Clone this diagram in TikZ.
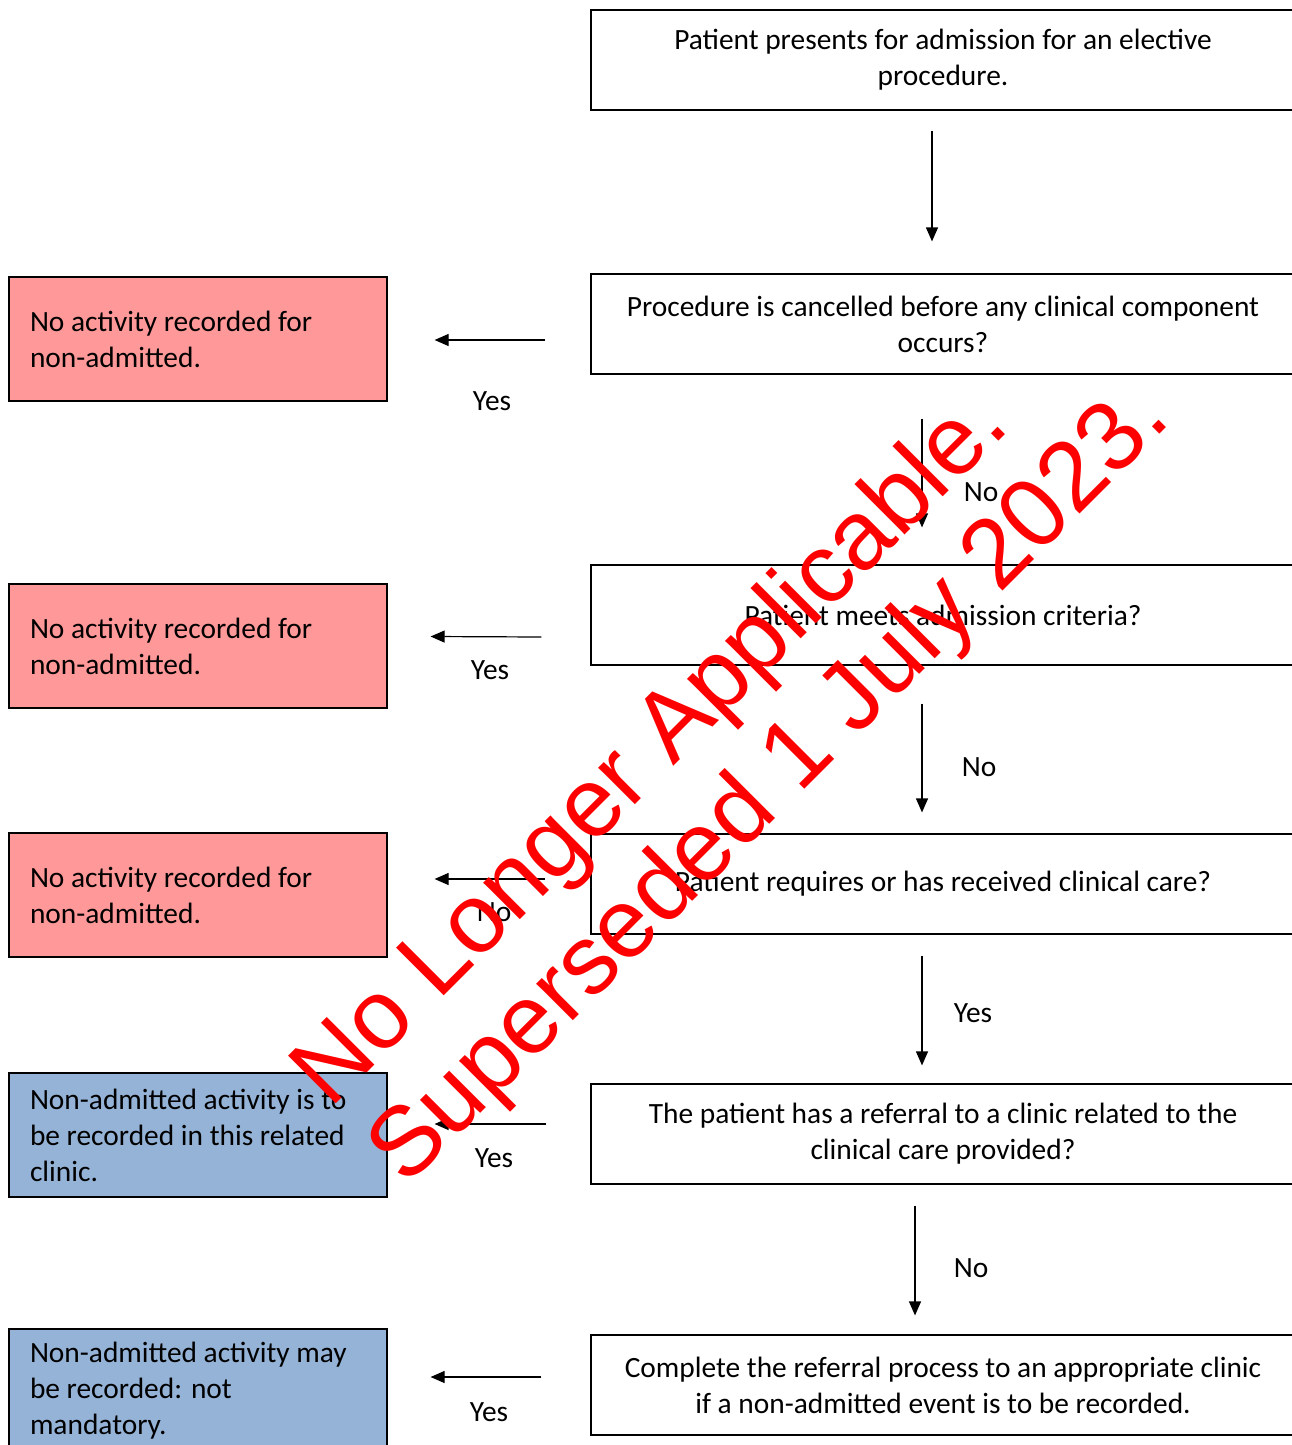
\documentclass[tikz,border=0pt]{standalone}
\usepackage{fontspec}
\setmainfont{Carlito}
\newfontfamily\markfont{Liberation Sans}
\usetikzlibrary{arrows.meta, positioning}
\definecolor{noactred}{RGB}{255,153,153}
\definecolor{clinicblue}{RGB}{149,179,215}
\tikzset{
	every node/.style={
		align=center,
	},
}
\tikzstyle{question} = [rectangle, draw, line width=0.6pt, minimum width=352pt, minimum height=50pt, font=\fontsize{14.7}{18}\selectfont]
\tikzstyle{outcome} = [rectangle, draw, line width=0.6pt, minimum width=189pt, minimum height=62pt, text width=168pt, inner xsep=10.5pt, align=flush left, font=\fontsize{14.7}{18}\selectfont]
\tikzstyle{answer} = [font=\fontsize{14.7}{18}\selectfont]
\tikzstyle{flow} = [-{Triangle[length=7pt,width=6pt]}, line width=0.6pt, black]
\tikzstyle{stamp} = [text=red, rotate=45, anchor=base west, inner sep=0pt, font=\markfont\fontsize{49}{57}\selectfont]

\begin{document}
\begin{tikzpicture}[x=0.5pt, y=-0.5pt]
    \useasboundingbox (0,0) rectangle (1291,1445);

    % main column
    \node (q1) [question] at (943,60) {Patient presents for admission for an elective\\procedure.};
    \node (q2) [question] at (943,324) {Procedure is cancelled before any clinical component\\occurs?};
    \node (q3) [question] at (943,615) {Patient meets admission criteria?};
    \node (q4) [question] at (943,884) {Patient requires or has received clinical care?};
    \node (q5) [question] at (943,1134) {The patient has a referral to a clinic related to the\\clinical care provided?};
    \node (q6) [question] at (943,1385) {Complete the referral process to an appropriate clinic\\if a non-admitted event is to be recorded.};

    % outcomes
    \node (o1) [outcome, fill=noactred] at (198,339) {No activity recorded for\\non-admitted.};
    \node (o2) [outcome, fill=noactred] at (198,646) {No activity recorded for\\non-admitted.};
    \node (o3) [outcome, fill=noactred] at (198,895) {No activity recorded for\\non-admitted.};
    \node (o4) [outcome, fill=clinicblue] at (198,1135) {Non-admitted activity is to\\be recorded in this related\\clinic.};
    \node (o5) [outcome, fill=clinicblue] at (198,1391) {Non-admitted activity may\\be recorded: not\\mandatory.};

    % down the column
    \draw[flow] ([xshift=-5.5pt, yshift=-10pt] q1.south) -- ([xshift=-5.5pt, yshift=16pt] q2.north);
    \draw[flow] ([xshift=-10.5pt, yshift=-22pt] q2.south) -- ([xshift=-10.5pt, yshift=18.5pt] q3.north);
    \draw[flow] ([xshift=-10.5pt, yshift=-19pt] q3.south) -- ([xshift=-10.5pt, yshift=10.5pt] q4.north);
    \draw[flow] ([xshift=-10.5pt, yshift=-10.5pt] q4.south) -- ([xshift=-10.5pt, yshift=9pt] q5.north);
    \draw[flow] ([xshift=-14pt, yshift=-10.5pt] q5.south) -- ([xshift=-14pt, yshift=9.5pt] q6.north);

    \node (n1) [answer] at (981,492) {No};
    \node (n2) [answer] at (979,767) {No};
    \node (y3) [answer] at (973,1013) {Yes};
    \node (n4) [answer] at (971,1268) {No};

    % across to the outcomes
    \draw[flow] ([xshift=-22.5pt, yshift=-8pt] q2.west) -- ([xshift=23.5pt, yshift=-0.5pt] o1.east);
    \draw[flow] ([xshift=-24.5pt, yshift=-11pt] q3.west) -- ([xshift=21.5pt, yshift=4.75pt] o2.east);
    \draw[flow] ([xshift=-22.5pt, yshift=2.5pt] q4.west) -- ([xshift=23.5pt, yshift=8pt] o3.east);
    \draw[flow] ([xshift=-22pt, yshift=5pt] q5.west) -- ([xshift=23.5pt, yshift=5.5pt] o4.east);
    \draw[flow] ([xshift=-24.5pt, yshift=4pt] q6.west) -- ([xshift=21.5pt, yshift=7pt] o5.east);

    \node (y1) [answer] at (492,401) {Yes};
    \node (y2) [answer] at (490,670) {Yes};
    \node (n3) [answer] at (494,912) {No};
    \node (y4) [answer] at (494,1158) {Yes};
    \node (y5) [answer] at (489,1412) {Yes};

    % watermark
    \node (stamp1) [stamp] at (330,1110) {No Longer Applicable.};
    \node (stamp2) [stamp] at (406,1188) {Superseded 1 July 2023.};
\end{tikzpicture}
\end{document}
